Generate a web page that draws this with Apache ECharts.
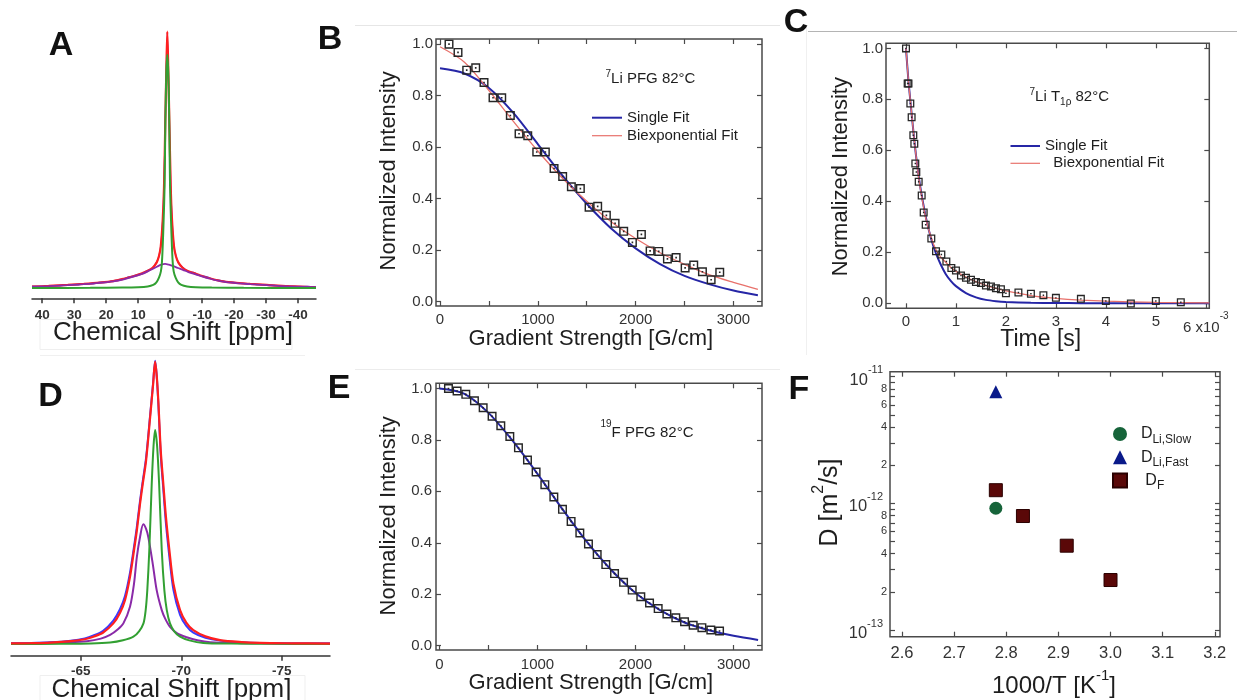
<!DOCTYPE html>
<html><head><meta charset="utf-8">
<script src="https://cdn.jsdelivr.net/npm/echarts@6/dist/echarts.min.js"></script>
<style>html,body{margin:0;padding:0;background:#fff}#c{width:1237px;height:700px}</style>
</head><body><div id="c"></div>
<script>
const FONT = '"Liberation Sans", Arial, Helvetica, sans-serif';
const INK = '#1e1e1e';
const LAB = '#333';
const FRAME = '#4a4a4a';

// ---------- Panel A : 7Li spectrum  [ppm, relative intensity]
const aRaw = [[43.2,0.7],[40,0.6],[38,0.9],[35,0.8],[32,1.3],[29,1.2],[27,1.7],[24,1.6],[22,2.3],[20,2.2],[17.8,2.8],[16,3.3],[14.5,3.5],[13,4.3],[11.5,4.7],[10,5.3],[9,5.5],[7.3,6.7],[5.5,7.8],[4.2,10.2],[3.5,12.4],[2.95,16.3],[2.33,26.4],[1.92,39.8],[1.51,65.4],[1.2,85.3],[0.89,99.6],[0.58,85.2],[0.26,65.8],[-0.18,39.4],[-0.58,26.8],[-1.21,16.0],[-1.8,12.6],[-2.55,9.8],[-3.8,8.2],[-5.7,6.4],[-7.5,6.0],[-9.3,4.8],[-10.5,4.6],[-12,4.1],[-13.5,3.3],[-15.6,3.0],[-17.5,2.4],[-19.8,2.3],[-22,1.8],[-25,1.7],[-27.5,1.3],[-30.2,1.3],[-33,0.9],[-37,0.8],[-40,0.5],[-43,0.6],[-45.6,0.4]];
const aSum = [[43.2,0.5],[38,0.8],[32,1.2],[27,1.6],[22,2.1],[17.8,2.7],[14.5,3.6],[11.5,4.6],[9,5.6],[7.3,6.5],[5.5,7.9],[4.2,10],[3.5,12.5],[2.95,16.1],[2.33,26.6],[1.92,39.6],[1.51,65.6],[1.2,85],[0.89,100],[0.58,85],[0.26,65.6],[-0.18,39.6],[-0.58,26.6],[-1.21,16.1],[-1.8,12.4],[-2.55,10],[-3.8,8],[-5.7,6.5],[-7.5,5.8],[-9.3,5.0],[-12,3.9],[-15.6,2.8],[-19.8,2.1],[-25,1.6],[-30.2,1.2],[-37,0.7],[-45.6,0.3]];
const aNarrow = [[43.2,0],[25,0.05],[15,0.15],[10,0.3],[7,0.6],[5.3,1.2],[4.3,2.2],[3.5,4],[2.9,6.5],[2.6,9.6],[2.34,16],[2.04,26.6],[1.74,40],[1.49,65.6],[1.2,84],[0.89,91],[0.58,84],[0.29,65.6],[0.04,40],[-0.26,26.6],[-0.56,16],[-0.82,9.6],[-1.1,6.5],[-1.7,4],[-2.5,2.2],[-3.5,1.2],[-5.3,0.6],[-8,0.3],[-13,0.15],[-23,0.05],[-45.6,0]];
const aBroad = [[43.2,0.45],[38,0.7],[32,1.1],[27,1.5],[22,2.0],[17.8,2.6],[14.5,3.4],[11.5,4.4],[9,5.4],[7.3,6.3],[5.5,7.4],[4,8.4],[2.8,9.1],[1.6,9.4],[0.4,9.1],[-0.8,8.6],[-2.5,7.8],[-4,7.1],[-5.7,6.2],[-7.5,5.5],[-9.3,4.8],[-12,3.8],[-15.6,2.7],[-19.8,2.0],[-25,1.5],[-30.2,1.1],[-37,0.65],[-45.6,0.3]];

// ---------- Panel D : 19F spectrum  [ppm, relative intensity]
const dRaw = [[-61.53,0.25],[-62.5,0.35],[-63.5,0.6],[-64.5,1.2],[-65.2,2.0],[-65.63,3.0],[-66.1,4.6],[-66.62,8.3],[-66.95,12.3],[-67.2,17],[-67.45,25.3],[-67.65,34.5],[-67.79,41.5],[-67.95,50.8],[-68.08,57.5],[-68.25,66],[-68.45,81],[-68.6,92.5],[-68.7,100.3],[-68.78,95],[-68.86,85],[-68.98,67],[-69.11,54.5],[-69.24,42.5],[-69.41,30.8],[-69.61,19.2],[-69.94,10.3],[-70.25,6.4],[-70.6,4.0],[-71.2,2.2],[-71.93,1.2],[-73,0.6],[-73.92,0.35],[-75.5,0.2],[-77.4,0.15]];
const dSum = [[-61.53,0.2],[-62.5,0.3],[-63.5,0.5],[-64.5,1.0],[-65.2,1.7],[-65.63,2.6],[-66.1,4.0],[-66.62,7.3],[-66.95,11],[-67.2,15.5],[-67.45,23.8],[-67.65,33.2],[-67.79,40.2],[-67.95,49.7],[-68.08,56.5],[-68.25,65],[-68.45,80.2],[-68.6,92],[-68.7,100],[-68.78,95],[-68.86,86],[-68.98,68.5],[-69.11,56.5],[-69.24,44.9],[-69.41,33.2],[-69.61,21.4],[-69.94,12],[-70.25,7.6],[-70.6,4.9],[-71.2,2.7],[-71.93,1.4],[-73,0.7],[-73.92,0.4],[-75.5,0.25],[-77.4,0.15]];
const dNarrow = [[-61.53,0],[-64,0.05],[-65.5,0.15],[-66.46,0.5],[-67.1,1.3],[-67.62,2.6],[-67.9,4.5],[-68.12,7.3],[-68.23,12],[-68.31,19],[-68.41,33.2],[-68.53,56.5],[-68.62,70],[-68.7,75.8],[-68.8,70],[-68.9,56.5],[-69.03,33.2],[-69.16,19],[-69.28,12],[-69.44,7.3],[-69.65,4.5],[-69.94,2.6],[-70.4,1.3],[-71.1,0.4],[-72.5,0.15],[-74.5,0.05],[-77.4,0]];
const dBroad = [[-61.53,0.2],[-63,0.35],[-64.3,0.6],[-65.3,1.0],[-66.0,1.9],[-66.46,3.2],[-66.85,5.2],[-67.12,7.3],[-67.45,13.2],[-67.65,21.4],[-67.79,30.8],[-67.95,37.9],[-68.11,42.4],[-68.25,40.8],[-68.36,37.9],[-68.58,28.5],[-68.78,19],[-69.03,12],[-69.2,9],[-69.44,6.1],[-69.8,3.8],[-70.27,2.4],[-70.8,1.3],[-71.43,0.6],[-73,0.3],[-75,0.2],[-77.4,0.15]];

// ---------- Panel B : 7Li PFG
const bX = [92,184,273,365,450,542,631,719,808,897,989,1077,1166,1254,1343,1435,1524,1612,1701,1790,1878,1967,2059,2148,2236,2325,2414,2506,2594,2683,2772,2860];
const bY = [1.0,0.968,0.899,0.908,0.851,0.792,0.792,0.723,0.652,0.644,0.581,0.581,0.517,0.486,0.446,0.439,0.367,0.37,0.335,0.304,0.273,0.230,0.261,0.197,0.195,0.166,0.171,0.131,0.142,0.116,0.085,0.114];
const bFitX = [0,250,500,750,1000,1250,1500,1750,2000,2250,2500,2750,3000,3250];
const bSingle = [0.906,0.886,0.83,0.733,0.612,0.49,0.38,0.284,0.207,0.146,0.1,0.068,0.043,0.025];
const bBiexp = [0.99,0.93,0.82,0.7,0.585,0.48,0.39,0.31,0.245,0.19,0.145,0.105,0.075,0.048];

// ---------- Panel C : 7Li T1rho (time in ms = units of 1e-3 s)
const cX = [0,0.033,0.05,0.087,0.113,0.147,0.167,0.187,0.207,0.254,0.314,0.354,0.394,0.507,0.601,0.708,0.808,0.908,1.0,1.1,1.2,1.3,1.4,1.5,1.6,1.7,1.8,1.9,2.0,2.25,2.5,2.75,3.0,3.5,4.0,4.5,5.0,5.5];
const cY = [1.0,0.862,0.862,0.784,0.73,0.659,0.626,0.548,0.515,0.477,0.423,0.356,0.308,0.254,0.204,0.191,0.164,0.138,0.128,0.109,0.1,0.092,0.083,0.079,0.069,0.066,0.059,0.055,0.039,0.042,0.037,0.031,0.021,0.017,0.009,-0.001,0.009,0.004];
const cFitX = [0,0.05,0.1,0.15,0.2,0.25,0.3,0.4,0.5,0.6,0.7,0.8,0.9,1.0,1.2,1.4,1.6,1.8,2.0,2.5,3.0,3.5,4.0,5.0,6.07];
const cSingle = [1.0,0.87,0.77,0.67,0.58,0.505,0.44,0.335,0.255,0.195,0.15,0.113,0.087,0.067,0.04,0.023,0.013,0.008,0.005,0.0015,0.0005,0.0002,0,0,0];
const cBiexp = [1.0,0.87,0.77,0.67,0.58,0.5,0.435,0.33,0.26,0.21,0.18,0.16,0.14,0.125,0.103,0.085,0.07,0.058,0.048,0.03,0.019,0.012,0.008,0.003,0.001];

// ---------- Panel E : 19F PFG
const eX = [92,180,269,357,446,537,626,718,806,898,986,1075,1167,1255,1343,1432,1520,1609,1697,1786,1878,1966,2054,2143,2231,2320,2411,2500,2588,2677,2768,2857];
const eY = [1.0,0.99,0.977,0.952,0.925,0.892,0.855,0.813,0.769,0.722,0.675,0.626,0.578,0.530,0.483,0.438,0.395,0.354,0.315,0.280,0.246,0.216,0.190,0.166,0.144,0.123,0.108,0.093,0.079,0.070,0.061,0.057];
const eFitX = [0,250,500,750,1000,1250,1500,1750,2000,2250,2500,2750,3000,3250];
const eFit = [1.0,0.98,0.905,0.795,0.668,0.533,0.405,0.295,0.205,0.138,0.09,0.06,0.038,0.022];

// ---------- Panel F : diffusion coefficients
const fSlowX = [2.78], fSlowY = [9.15e-13];
const fFastX = [2.78], fFastY = [7.6e-12];
const fFX = [2.78,2.832,2.916,3.0], fFY = [1.27e-12,7.94e-13,4.63e-13,2.48e-13];

// ---------- tick values
const ppmTicksA = [40,30,20,10,0,-10,-20,-30,-40];
const ppmTicksD = [-65,-70,-75];
const gradLabels = [0,1000,2000,3000];
const gradTicks = [0,500,1000,1500,2000,2500,3000];
const intTicks = [0,0.2,0.4,0.6,0.8,1.0];
const timeTicks = [0,1,2,3,4,5,6];
const invTTicks = [2.6,2.7,2.8,2.9,3.0,3.1,3.2];
const dLabels = [1e-13,2e-13,4e-13,6e-13,8e-13,1e-12,2e-12,4e-12,6e-12,8e-12,1e-11];
const dTicks = [1e-13,2e-13,3e-13,4e-13,5e-13,6e-13,7e-13,8e-13,9e-13,1e-12,2e-12,3e-12,4e-12,5e-12,6e-12,7e-12,8e-12,9e-12,1e-11];

const zip = (xs, ys) => xs.map((x, i) => [x, ys[i]]);
const SQ = 'path://M0,0H10V10H0Z M1.6,1.6V8.4H8.4V1.6Z M4.1,4.1H5.9V5.9H4.1Z';

const frameGrid = {show:true, borderColor:FRAME, borderWidth:1.5, backgroundColor:'rgba(0,0,0,0)'};
const grid = [
  {left:32, top:31.7, width:284, height:266.6},                 // A
  Object.assign({left:436, top:39, width:326, height:267}, frameGrid),     // B
  Object.assign({left:886, top:43.3, width:323.3, height:265}, frameGrid), // C
  {left:11, top:361.7, width:319, height:294},                  // D
  Object.assign({left:436, top:383.3, width:326, height:266.7}, frameGrid),// E
  Object.assign({left:890, top:371.7, width:330, height:265}, frameGrid)   // F
];

const tickStyle = {color:FRAME, width:1.2};
const noLine = {show:false, onZero:false};
function xPair(g, min, max, ticks, labels, fmt, lab) {
  return [
    {type:'value', gridIndex:g, min, max, position:'bottom', axisLine:noLine, splitLine:{show:false},
     axisTick:{inside:true, length:5, customValues:ticks, lineStyle:tickStyle},
     axisLabel:Object.assign({customValues:labels, formatter:fmt, color:LAB, fontFamily:FONT, fontSize:15, margin:7,
       showMinLabel:true, showMaxLabel:true}, lab||{})},
    {type:'value', gridIndex:g, min, max, position:'top', axisLine:noLine, splitLine:{show:false},
     axisTick:{inside:true, length:5, customValues:ticks, lineStyle:tickStyle}, axisLabel:{show:false}}
  ];
}
function yPair(g, type, min, max, ticks, labels, fmt, lab) {
  return [
    {type, gridIndex:g, min, max, position:'left', axisLine:noLine, splitLine:{show:false},
     axisTick:{inside:true, length:5, customValues:ticks, lineStyle:tickStyle},
     axisLabel:Object.assign({customValues:labels, formatter:fmt, color:LAB, fontFamily:FONT, fontSize:15, margin:3,
       showMinLabel:true, showMaxLabel:true}, lab||{})},
    {type, gridIndex:g, min, max, position:'right', axisLine:noLine, splitLine:{show:false},
     axisTick:{inside:true, length:5, customValues:ticks, lineStyle:tickStyle}, axisLabel:{show:false}}
  ];
}
const f1 = v => v.toFixed(1);
const fInt = v => String(v);
const timeFmt = v => v === 6 ? '{d|6 x10}{sup|-3}' : String(v);
const dFmt = v => {
  const e = Math.floor(Math.log10(v) + 1e-9);
  const m = Math.round(v / Math.pow(10, e));
  return m === 1 ? '{b|10}{sup|' + e + '}' : '{m|' + m + '}';
};
const dRich = {b:{fontSize:16.5, lineHeight:24, verticalAlign:'bottom', color:LAB, fontFamily:FONT},
               sup:{fontSize:11, verticalAlign:'top', padding:[0,4,0,0], color:LAB, fontFamily:FONT},
               m:{fontSize:11, color:LAB, fontFamily:FONT}};

const specAxis = (g, min, max, ticks, margin) => ({
  type:'value', gridIndex:g, min, max, inverse:true, position:'bottom',
  axisLine:{show:true, onZero:false, lineStyle:{color:'#333', width:1.5}},
  axisTick:{show:true, inside:false, length:5, customValues:ticks, lineStyle:{color:'#333', width:1.5}},
  axisLabel:{customValues:ticks, formatter:fInt, color:LAB, fontFamily:FONT, fontSize:13.5, fontWeight:'bold', margin,
    showMinLabel:true, showMaxLabel:true},
  splitLine:{show:false}
});
const hiddenY = (g, min, max) => ({type:'value', gridIndex:g, min, max, show:false, splitLine:{show:false}});

const xAxis = [
  specAxis(0, -45.6, 43.2, ppmTicksA, 10),                                   // 0
  ...xPair(1, -41, 3292, gradTicks, gradLabels, fInt, {margin:6.5}),        // 1,2
  ...xPair(2, -0.4, 6.07, timeTicks, timeTicks, timeFmt, {margin:3.4, lineHeight:20,
      rich:{d:{fontSize:15, lineHeight:24, verticalAlign:'bottom', color:LAB, fontFamily:FONT},
            sup:{fontSize:10, verticalAlign:'top', color:LAB, fontFamily:FONT}}}), // 3,4
  specAxis(3, -77.4, -61.53, ppmTicksD, 9),                                  // 5
  ...xPair(4, -35, 3290, gradTicks, gradLabels, fInt, {margin:7.5}),        // 6,7
  ...xPair(5, 2.577, 3.21, invTTicks, invTTicks, f1, {fontSize:16.5, margin:8}) // 8,9
];
const D_MIN = 8.85e-14, D_MAX = 1.095e-11;
const yAxis = [
  hiddenY(0, -4.02, 100),                                                    // 0
  ...yPair(1, 'value', -0.017, 1.02, intTicks, intTicks, f1),               // 1,2
  ...yPair(2, 'value', -0.02, 1.02, intTicks, intTicks, f1),                // 3,4
  hiddenY(3, -4.14, 100),                                                    // 5
  ...yPair(4, 'value', -0.017, 1.02, intTicks, intTicks, f1, {margin:4}),   // 6,7
  ...yPair(5, 'log', D_MIN, D_MAX, dTicks, dLabels.slice(0, -1), dFmt, {margin:3, rich:dRich}), // 8,9
  // top decade label of panel F on its own axis so neighbouring labels are not suppressed
  {type:'log', gridIndex:5, min:D_MIN, max:D_MAX, position:'left', axisLine:noLine, splitLine:{show:false},
   axisTick:{show:false}, axisLabel:{customValues:dLabels.slice(-1), formatter:dFmt, margin:3, rich:dRich,
   color:LAB, fontFamily:FONT, showMinLabel:true, showMaxLabel:true}}        // 10
];

const line = (name, xi, yi, data, color, width, z, extra) => Object.assign({
  name, type:'line', xAxisIndex:xi, yAxisIndex:yi, data, symbol:'none', showSymbol:false,
  lineStyle:{color, width}, itemStyle:{color}, smooth:0.3, z, clip:false, silent:true
}, extra || {});
const squares = (name, xi, yi, data, size) => ({
  name, type:'scatter', xAxisIndex:xi, yAxisIndex:yi, data, symbol:SQ, symbolSize:size,
  itemStyle:{color:'#262626', opacity:1}, z:5, silent:true
});

const BLUE = '#2626a6', SALMON = '#e8716b';
const series = [
  // A
  line('A raw', 0, 0, aRaw, '#3a3aff', 1.3, 2, {smooth:0.15}),
  line('A sum', 0, 0, aSum, '#ff1f1f', 2.2, 3),
  line('A broad', 0, 0, aBroad, '#8a2aa8', 1.8, 4),
  line('A narrow', 0, 0, aNarrow, '#32a032', 2, 5),
  // D
  line('D raw', 5, 5, dRaw, '#3a3aff', 2, 2),
  line('D broad', 5, 5, dBroad, '#8a2aa8', 2, 3),
  line('D narrow', 5, 5, dNarrow, '#32a032', 2, 4),
  line('D sum', 5, 5, dSum, '#ff1f1f', 2.2, 5),
  // B
  line('Single Fit', 1, 1, zip(bFitX, bSingle), BLUE, 2, 2, {clip:true}),
  line('Biexponential Fit', 1, 1, zip(bFitX, bBiexp), SALMON, 1.3, 3, {clip:true}),
  squares('B data', 1, 1, zip(bX, bY), 9),
  // C
  line('Single Fit', 3, 3, zip(cFitX, cSingle), BLUE, 2, 2, {clip:true, smooth:0.2}),
  line('Biexponential Fit', 3, 3, zip(cFitX, cBiexp), SALMON, 1.3, 3, {clip:true, smooth:0.2}),
  squares('C data', 3, 3, zip(cX, cY), 8),
  // E
  line('E fit', 6, 6, zip(eFitX, eFit), BLUE, 2, 2, {clip:true}),
  squares('E data', 6, 6, zip(eX, eY), 9),
  // F
  {name:'DLi,Slow', type:'scatter', xAxisIndex:8, yAxisIndex:8, data:zip(fSlowX, fSlowY), symbol:'circle', symbolSize:13,
   itemStyle:{color:'#16643a', opacity:1}},
  {name:'DLi,Fast', type:'scatter', xAxisIndex:8, yAxisIndex:8, data:zip(fFastX, fFastY), symbol:'triangle', symbolSize:13,
   itemStyle:{color:'#0a1a8a', opacity:1}},
  {name:'DF', type:'scatter', xAxisIndex:8, yAxisIndex:8, data:zip(fFX, fFY), symbol:'rect', symbolSize:13,
   itemStyle:{color:'#5a0808', borderColor:'#2a0000', borderWidth:1, opacity:1}}
];

const legTxt = {fontSize:15, color:INK, fontFamily:FONT};
const fitLegendData = [
  {name:'Single Fit', icon:'path://M0,0H30V2H0Z'},
  {name:'Biexponential Fit', icon:'path://M0,0H30V1.2H0Z'}
];
const legend = [
  {data:fitLegendData, orient:'vertical', left:592, top:110.2, padding:0,
   itemWidth:30, itemHeight:10, itemGap:3, textStyle:legTxt, selectedMode:false},
  {data:fitLegendData, orient:'vertical', left:1010.5, top:138.5, padding:0,
   itemWidth:29.5, itemHeight:10, itemGap:2.3, textStyle:legTxt, selectedMode:false,
   formatter: n => n === 'Biexponential Fit' ? '  ' + n : n},
  {data:['DLi,Slow','DLi,Fast','DF'], orient:'vertical', left:1112, top:422.5, padding:0,
   itemWidth:14, itemHeight:14, itemGap:0.3, selectedMode:false, itemStyle:{opacity:1},
   textStyle:{fontSize:16, color:INK, fontFamily:FONT, lineHeight:23,
     rich:{s:{fontSize:12, verticalAlign:'bottom', color:INK, fontFamily:FONT}}},
   formatter: n => n === 'DF' ? '   D{s|F}' : '  D{s|' + n.slice(1) + '}'}
];

// ---------- text decorations
const T = (x, y, text, size, opts) => Object.assign({type:'text', x, y, z:101,
  style:Object.assign({text, fontSize:size, fontFamily:FONT, fill:INK, align:'center', verticalAlign:'middle'}, (opts && opts.style) || {})},
  opts && opts.rotation ? {rotation:opts.rotation} : {});
const letter = (x, y, s) => ({type:'text', x, y, z:101, style:{text:s, fontSize:34, fontWeight:'bold', fontFamily:FONT, fill:'#111', align:'center', verticalAlign:'middle'}});
const hline = (x1, y1, x2, y2, c) => ({type:'line', z:1, shape:{x1, y1, x2, y2}, style:{stroke:c, lineWidth:1}});
const R90 = Math.PI / 2;

const graphic = [
  hline(355, 25.5, 780, 25.5, '#e6e6e6'),
  hline(808, 31.5, 1237, 31.5, '#b4b4b4'),
  hline(806.5, 25, 806.5, 355, '#f0f0f0'),
  hline(355, 369.5, 780, 369.5, '#ececec'),
  hline(40, 355.5, 305, 355.5, '#f0f0f0'),
  {type:'rect', z:100, shape:{x:40, y:319.5, width:252, height:30}, style:{fill:'#fff', stroke:'#efefef', lineWidth:1}},
  {type:'rect', z:100, shape:{x:40, y:675.5, width:265, height:30}, style:{fill:'#fff', stroke:'#efefef', lineWidth:1}},
  letter(61, 46, 'A'), letter(330, 40, 'B'), letter(796, 23, 'C'),
  letter(50.5, 397, 'D'), letter(339, 389, 'E'), letter(799, 390, 'F'),
  T(173, 332.5, 'Chemical Shift [ppm]', 26),
  T(171.5, 689.5, 'Chemical Shift [ppm]', 26),
  T(590.8, 339, 'Gradient Strength [G/cm]', 22),
  T(389, 170.8, 'Normalized Intensity', 22, {rotation:R90}),
  T(1040.7, 339.5, 'Time [s]', 23),
  T(841, 176.7, 'Normalized Intensity', 22, {rotation:R90}),
  T(590.8, 683, 'Gradient Strength [G/cm]', 22),
  T(389, 515.8, 'Normalized Intensity', 22, {rotation:R90}),
  T(1054, 683, '', 24, {style:{text:'{t|1000/T [K}{sup|-1}{t|]}',
     rich:{t:{fontSize:24, lineHeight:30, verticalAlign:'bottom', fontFamily:FONT, fill:INK},
           sup:{fontSize:15, verticalAlign:'top', fontFamily:FONT, fill:INK}}}}),
  T(826.5, 502.5, '', 25, {rotation:R90, style:{text:'{t|D [m}{sup|2}{t|/s]}',
     rich:{t:{fontSize:25, lineHeight:32, verticalAlign:'bottom', fontFamily:FONT, fill:INK},
           sup:{fontSize:16, verticalAlign:'top', fontFamily:FONT, fill:INK}}}}),
  T(605.5, 78, '', 15, {style:{align:'left', text:'{sup|7}{t|Li PFG 82°C}',
     rich:{t:{fontSize:15, lineHeight:17, verticalAlign:'bottom', fontFamily:FONT, fill:INK},
           sup:{fontSize:10, verticalAlign:'top', fontFamily:FONT, fill:INK}}}}),
  T(1029.5, 97.3, '', 15, {style:{align:'left', text:'{sup|7}{t|Li T}{sub|1ρ}{t| 82°C}',
     rich:{t:{fontSize:15, lineHeight:20, fontFamily:FONT, fill:INK},
           sup:{fontSize:10, verticalAlign:'top', fontFamily:FONT, fill:INK},
           sub:{fontSize:10, verticalAlign:'bottom', fontFamily:FONT, fill:INK}}}}),
  T(600.5, 429.5, '', 15, {style:{align:'left', text:'{sup|19}{t|F PFG 82°C}',
     rich:{t:{fontSize:15, lineHeight:21, verticalAlign:'bottom', fontFamily:FONT, fill:INK},
           sup:{fontSize:10, verticalAlign:'top', fontFamily:FONT, fill:INK}}}})
];

const chart = echarts.init(document.getElementById('c'), null, {renderer:'canvas', width:1237, height:700});
chart.setOption({animation:false, backgroundColor:'#fff', textStyle:{fontFamily:FONT},
  grid, xAxis, yAxis, series, legend, graphic});
</script></body></html>
